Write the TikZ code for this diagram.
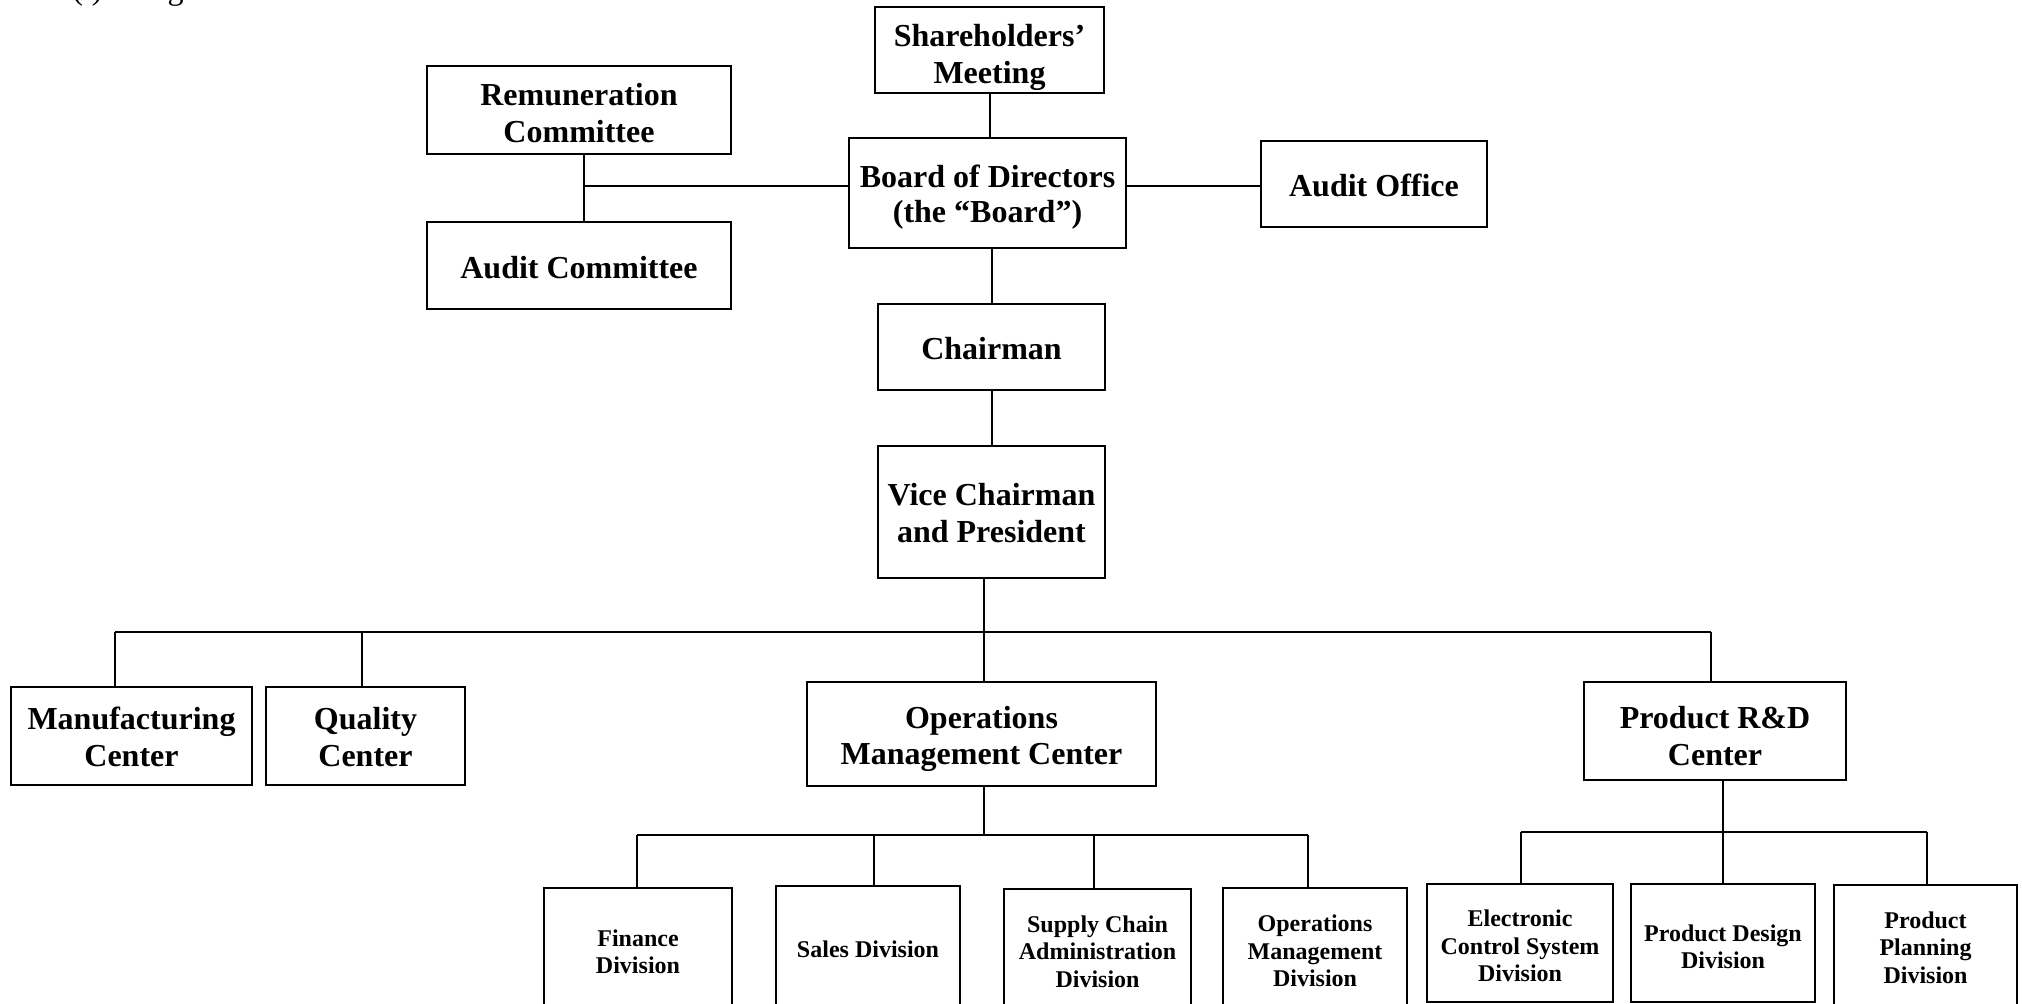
\documentclass[tikz,border=0pt]{standalone}
\usepackage{fontspec}
\setmainfont{Liberation Serif}
\usetikzlibrary{calc}
\tikzset{
  box/.style={draw, line width=1.1pt, inner sep=0pt},
  boxtext/.style={inner sep=0pt, align=center, yshift=-1pt,
    font=\bfseries\fontsize{16}{18.4}\selectfont},
  smallbox/.style={font=\bfseries\fontsize{12}{13.75}\selectfont},
  conn/.style={line width=1pt},
}
% [text options]{name}{x1}{y1}{x2}{y2}{text}
\newcommand{\orgbox}[7][]{%
  \node[box,minimum width={(#5-#3)*0.5pt},minimum height={(#6-#4)*0.5pt}]
    (#2) at ({(#3+#5)/2},{(#4+#6)/2}) {};
  \node[boxtext,#1] (#2-t) at (#2.center) {#7};}
\begin{document}
\begin{tikzpicture}[x=0.5pt,y=-0.5pt]
\useasboundingbox (0,0) rectangle (2022,1004);
% cut-off heading
\node[anchor=base west, inner sep=0pt, font=\fontsize{16}{18}\selectfont] (hdA) at (72,0) {(i)};
\node[anchor=base west, inner sep=0pt, font=\fontsize{16}{18}\selectfont] (hdB) at (134,0) {Organization};
% boxes
\orgbox[yshift=-2.8pt]{sh}{875}{7}{1104}{93}{Shareholders’\\Meeting}
\orgbox[yshift=-0.4pt]{rem}{427}{66}{731}{154}{Remuneration\\Committee}
\orgbox{audc}{427}{222}{731}{309}{Audit Committee}
\orgbox[yshift=-1pt,font=\bfseries\fontsize{16}{17.2}\selectfont]{board}{849}{138}{1126}{248}{Board of Directors\\(the “Board”)}
\orgbox[yshift=0.5pt]{audo}{1261}{141}{1487}{227}{Audit Office}
\orgbox{chair}{878}{304}{1105}{390}{Chairman}
\orgbox[yshift=0.4pt]{vp}{878}{446}{1105}{578}{Vice Chairman\\and President}
\orgbox[yshift=0.4pt]{mfg}{11}{687}{252}{785}{Manufacturing\\Center}
\orgbox[yshift=0.4pt]{qual}{266}{687}{465}{785}{Quality\\Center}
\orgbox[yshift=-1.5pt]{opc}{807}{682}{1156}{786}{Operations\\Management Center}
\orgbox[yshift=-1.5pt]{rnd}{1584}{682}{1846}{780}{Product R\&D\\Center}
\orgbox[smallbox,yshift=-0.3pt]{fin}{544}{888}{732}{1010}{Finance\\Division}
\orgbox[smallbox,yshift=0.4pt]{sales}{776}{886}{960}{1010}{Sales Division}
\orgbox[smallbox,yshift=0.4pt]{supply}{1004}{889}{1191}{1012}{Supply Chain\\Administration\\Division}
\orgbox[smallbox]{opsdiv}{1223}{888}{1407}{1010}{Operations\\Management\\Division}
\orgbox[smallbox,yshift=-0.5pt]{elec}{1427}{884}{1613}{1002}{Electronic\\Control System\\Division}
\orgbox[smallbox,yshift=-0.8pt]{pdes}{1631}{884}{1815}{1002}{Product Design\\Division}
\orgbox[smallbox,yshift=0.4pt]{pplan}{1834}{885}{2017}{1008}{Product\\Planning\\Division}
% junction coordinates
\coordinate (jl) at (584,186);
\coordinate (vpj) at (984,632);
\coordinate (b1) at (115,632);
\coordinate (b2) at (362,632);
\coordinate (b4) at (1711,632);
\coordinate (o1) at (637,835);
\coordinate (o2) at (874,835);
\coordinate (o3) at (1094,835);
\coordinate (o4) at (1308,835);
\coordinate (r1) at (1521,832);
\coordinate (r2) at (1723,832);
\coordinate (r3) at (1927,832);
% connectors
\draw[conn] (sh.south) -- (sh.south |- board.north);
\draw[conn] (chair.north |- board.south) -- (chair.north);
\draw[conn] (chair.south) -- (vp.north);
\draw[conn] (jl) -- (jl -| board.west);
\draw[conn] (jl |- rem.south) -- (jl |- audc.north);
\draw[conn] (jl -| board.east) -- (jl -| audo.west);
\draw[conn] (vpj |- vp.south) -- (vpj |- opc.north);
\draw[conn] (b1) -- (b4);
\draw[conn] (b1) -- (b1 |- mfg.north);
\draw[conn] (b2) -- (b2 |- qual.north);
\draw[conn] (b4) -- (b4 |- rnd.north);
\draw[conn] (vpj |- opc.south) -- (vpj |- o1);
\draw[conn] (o1) -- (o4);
\draw[conn] (o1) -- (o1 |- fin.north);
\draw[conn] (o2) -- (o2 |- sales.north);
\draw[conn] (o3) -- (o3 |- supply.north);
\draw[conn] (o4) -- (o4 |- opsdiv.north);
\draw[conn] (r2 |- rnd.south) -- (r2);
\draw[conn] (r1) -- (r3);
\draw[conn] (r1) -- (r1 |- elec.north);
\draw[conn] (r2) -- (r2 |- pdes.north);
\draw[conn] (r3) -- (r3 |- pplan.north);
\end{tikzpicture}
\end{document}
